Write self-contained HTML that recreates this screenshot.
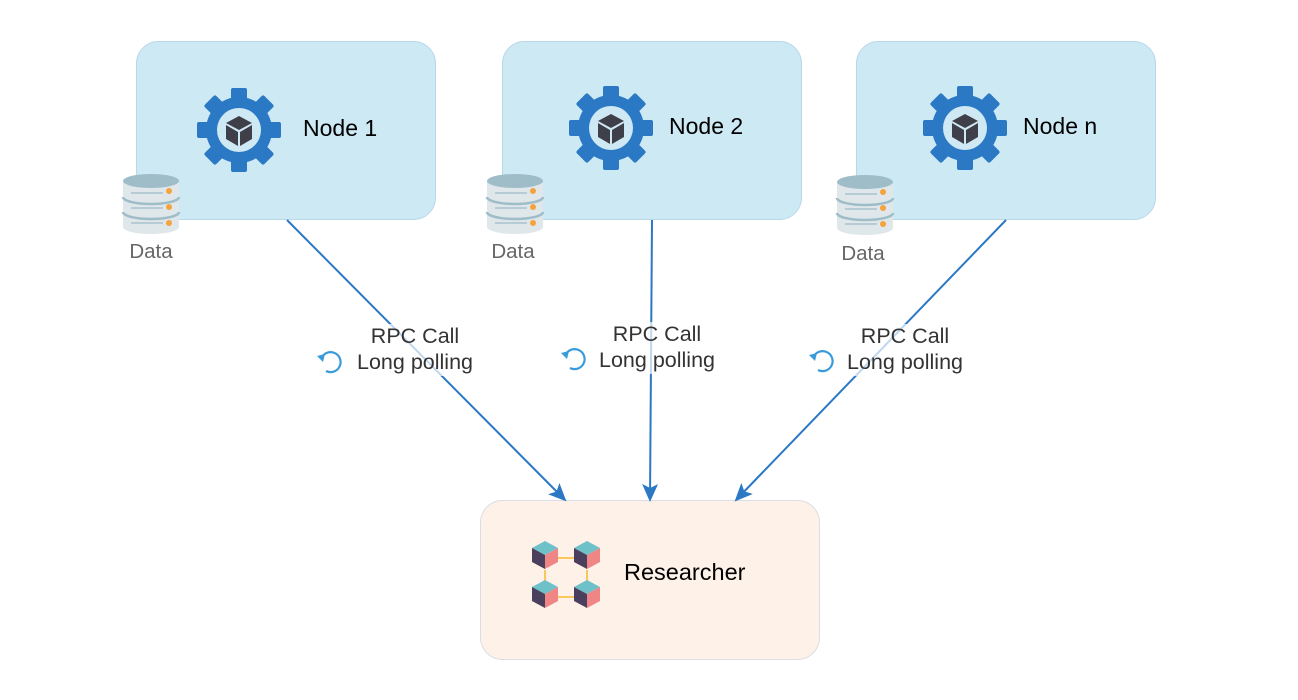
<!DOCTYPE html>
<html><head><meta charset="utf-8"><style>
html,body{margin:0;padding:0;background:#fff;}
svg{display:block;font-family:"Liberation Sans",Arial,sans-serif;}
</style></head><body>
<svg width="1298" height="700" viewBox="0 0 1298 700" xmlns="http://www.w3.org/2000/svg">
<defs>
<g id="gear">
  <g fill="#2b78c5">
    <circle r="33"/>
    <rect x="-8" y="-42" width="16" height="84" rx="2"/>
    <rect x="-8" y="-42" width="16" height="84" rx="2" transform="rotate(45)"/>
    <rect x="-8" y="-42" width="16" height="84" rx="2" transform="rotate(90)"/>
    <rect x="-8" y="-42" width="16" height="84" rx="2" transform="rotate(135)"/>
  </g>
  <circle r="22" fill="#cfe9f4"/>
  <path d="M0,-14 L13,-7 L0,0 L-13,-7 Z" fill="#3f3f4a"/>
  <path d="M-13,-5 L-1,2 L-1,16 L-13,9 Z" fill="#3f3f4a"/>
  <path d="M13,-5 L1,2 L1,16 L13,9 Z" fill="#3f3f4a"/>
</g>
<g id="db">
  <path d="M-28,-22 L-28,24 A28,7 0 0 0 28,24 L28,-22 Z" fill="#dfe7ea"/>
  <ellipse cx="0" cy="-22" rx="28" ry="7" fill="#9fbdc8"/>
  <path d="M-28,-6 A28,7 0 0 0 28,-6 M-28,9 A28,7 0 0 0 28,9" stroke="#9fbdc8" stroke-width="2.5" fill="none"/>
  <path d="M-20,-10 L12,-10 M-20,5 L12,5 M-20,20 L12,20" stroke="#a8c3cc" stroke-width="1.5"/>
  <circle cx="18" cy="-12" r="3" fill="#f5a33c"/>
  <circle cx="18" cy="4" r="3" fill="#f5a33c"/>
  <circle cx="18" cy="20" r="3" fill="#f5a33c"/>
</g>
<g id="cube">
  <path d="M0,-13 L13,-6 L0,1 L-13,-6 Z" fill="#6ec0c9"/>
  <path d="M-13,-6 L0,1 L0,15 L-13,8 Z" fill="#4a3f5c"/>
  <path d="M13,-6 L0,1 L0,15 L13,8 Z" fill="#ef8585"/>
</g>
<g id="refresh">
  <path d="M-8,-6 A10,10 0 1 1 -4,8" fill="none" stroke="#3a9bdc" stroke-width="2.2"/>
  <path d="M-13,-7 L-5,-9 L-7,-1 Z" fill="#3a9bdc"/>
</g>
<marker id="ar" markerWidth="18" markerHeight="16" refX="16" refY="8" orient="auto" markerUnits="userSpaceOnUse">
  <path d="M0,0 L18,8 L0,16 L4,8 Z" fill="#2b78c5"/>
</marker>
</defs>

<rect x="136.5" y="41.5" width="299" height="178" rx="22" fill="#cde9f4" stroke="#b8d8ea"/>
<rect x="502.5" y="41.5" width="299" height="178" rx="22" fill="#cde9f4" stroke="#b8d8ea"/>
<rect x="856.5" y="41.5" width="299" height="178" rx="22" fill="#cde9f4" stroke="#b8d8ea"/>
<rect x="480.5" y="500.5" width="339" height="159" rx="22" fill="#fdf1e8" stroke="#dcdce6"/>

<use href="#gear" x="239" y="130"/>
<use href="#gear" x="611" y="128"/>
<use href="#gear" x="965" y="128"/>
<text x="303" y="136" font-size="23" fill="#000">Node 1</text>
<text x="669" y="134" font-size="23" fill="#000">Node 2</text>
<text x="1023" y="134" font-size="23" fill="#000">Node n</text>

<use href="#db" x="151" y="203"/>
<use href="#db" x="515" y="203"/>
<use href="#db" x="865" y="204"/>
<text x="151" y="258" font-size="20.5" fill="#666" text-anchor="middle">Data</text>
<text x="513" y="258" font-size="20.5" fill="#666" text-anchor="middle">Data</text>
<text x="863" y="260" font-size="20.5" fill="#666" text-anchor="middle">Data</text>

<line x1="287" y1="220" x2="565" y2="500" stroke="#2b78c5" stroke-width="2" marker-end="url(#ar)"/>
<line x1="652" y1="220" x2="650" y2="500" stroke="#2b78c5" stroke-width="2" marker-end="url(#ar)"/>
<line x1="1006" y1="220" x2="736" y2="500" stroke="#2b78c5" stroke-width="2" marker-end="url(#ar)"/>

<rect x="355" y="324" width="120" height="52" fill="#fff" opacity="0.7"/>
<rect x="597" y="322" width="120" height="52" fill="#fff" opacity="0.7"/>
<rect x="845" y="324" width="120" height="52" fill="#fff" opacity="0.7"/>
<g font-size="21.5" fill="#333" text-anchor="middle">
<text x="415" y="343">RPC Call</text><text x="415" y="369">Long polling</text>
<text x="657" y="341">RPC Call</text><text x="657" y="367">Long polling</text>
<text x="905" y="343">RPC Call</text><text x="905" y="369">Long polling</text>
</g>
<use href="#refresh" x="330" y="363"/>
<use href="#refresh" x="574" y="360"/>
<use href="#refresh" x="822" y="362"/>

<g stroke="#f8c95a" stroke-width="2">
<line x1="553" y1="558" x2="580" y2="558"/>
<line x1="553" y1="597" x2="580" y2="597"/>
<line x1="545" y1="570" x2="545" y2="584"/>
<line x1="587" y1="570" x2="587" y2="584"/>
</g>
<use href="#cube" x="545" y="554"/>
<use href="#cube" x="587" y="554"/>
<use href="#cube" x="545" y="593"/>
<use href="#cube" x="587" y="593"/>
<text x="624" y="580" font-size="23.5" fill="#000">Researcher</text>
</svg>
</body></html>
